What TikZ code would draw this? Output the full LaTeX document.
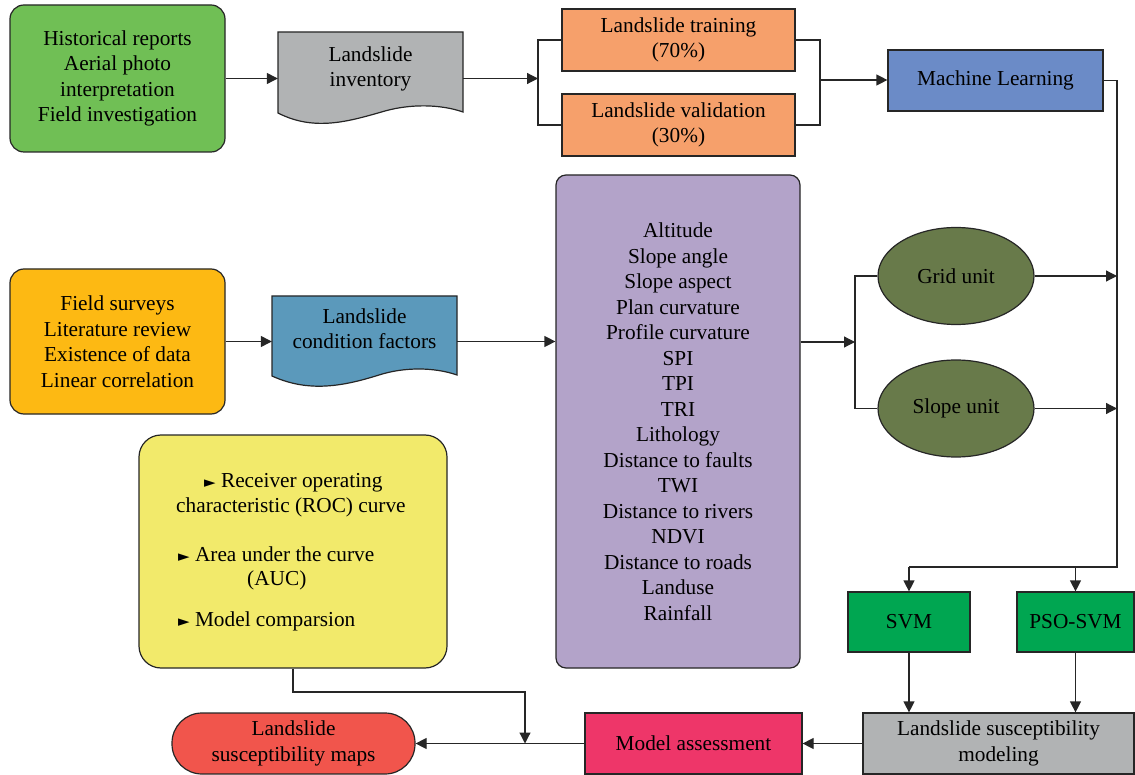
\documentclass[tikz,border=0pt]{standalone}
\usepackage{fontspec}
\setmainfont{Liberation Serif}
\newfontfamily\symfont{DejaVu Sans}
\usetikzlibrary{arrows.meta,shapes.geometric}
\definecolor{cgreen}{HTML}{70BF55}
\definecolor{cgray}{HTML}{B1B3B4}
\definecolor{corange}{HTML}{F6A06B}
\definecolor{cblue}{HTML}{6B8BC7}
\definecolor{cyellowor}{HTML}{FDB913}
\definecolor{cteal}{HTML}{5B99BB}
\definecolor{cpurple}{HTML}{B3A3C9}
\definecolor{colive}{HTML}{687A4A}
\definecolor{cyellow}{HTML}{F2EA6B}
\definecolor{csvm}{HTML}{00A651}
\definecolor{cpink}{HTML}{EE3669}
\definecolor{cred}{HTML}{F1554C}
\tikzset{
  x=1pt, y=-1pt,
  txt/.style={align=center, inner sep=0pt, font=\fontsize{21.3}{25.5}\selectfont},
  box/.style={txt, draw=black!85, line width=1.2pt},
  ln/.style={line width=1.2pt, draw=black!85},
  arr/.style={ln, -{Triangle[length=11pt,width=11pt]}},
  shapeline/.style={draw=black!85, line width=1.2pt},
  bline/.style={anchor=west, inner sep=0pt, text height=14pt, text depth=4pt, font=\fontsize{21.3}{25.5}\selectfont},
}
\newcommand{\tri}{{\symfont\fontsize{15}{15}\selectfont ►}}
\begin{document}
\begin{tikzpicture}
\useasboundingbox (0,0) rectangle (1135,775);
% source boxes
\node[box, fill=cgreen, rounded corners=14pt, minimum width=215pt, minimum height=147pt] (src1) at (117.5,78.5)
  {Historical reports\\Aerial photo\\interpretation\\Field investigation};
\node[box, fill=cyellowor, rounded corners=14pt, minimum width=215pt, minimum height=145pt] (src2) at (117.5,341.5)
  {Field surveys\\Literature review\\Existence of data\\Linear correlation};
% document shapes
\filldraw[shapeline, fill=cgray] (278,32) -- (463,32) -- (463,112)
  .. controls (440,104) and (410,104) .. (385,111)
  .. controls (350,121) and (315,132) .. (278,113) -- cycle;
\node[txt, minimum width=185pt] (inv) at (370.5,69) {Landslide\\inventory};
\filldraw[shapeline, fill=cteal] (272,296) -- (457,296) -- (457,375)
  .. controls (434,367) and (404,367) .. (379,375)
  .. controls (344,386) and (309,393) .. (272,376) -- cycle;
\node[txt, minimum width=185pt] (lcf) at (364.5,328.5) {Landslide\\condition factors};
% training / validation
\node[box, fill=corange, minimum width=233pt, minimum height=62pt] (train) at (678.5,40) {Landslide training\\(70\%)};
\node[box, fill=corange, minimum width=233pt, minimum height=62pt] (valid) at (678.5,125) {Landslide validation\\(30\%)};
\node[box, fill=cblue, minimum width=215pt, minimum height=61pt] (ml) at (995.5,80.5) {Machine Learning};
% factors
\node[box, fill=cpurple, rounded corners=10pt, minimum width=244pt, minimum height=493pt] (fac) at (678,421.5)
  {Altitude\\Slope angle\\Slope aspect\\Plan curvature\\Profile curvature\\SPI\\TPI\\TRI\\Lithology\\Distance to faults\\TWI\\Distance to rivers\\NDVI\\Distance to roads\\Landuse\\Rainfall};
% ellipses
\node[box, ellipse, fill=colive, minimum width=156pt, minimum height=97pt] (grid) at (956,276) {Grid unit};
\node[box, ellipse, fill=colive, minimum width=156pt, minimum height=97pt] (slope) at (956,408.5) {Slope unit};
% ROC box
\node[box, fill=cyellow, rounded corners=22pt, minimum width=308pt, minimum height=233pt] (roc) at (293,551.5) {};
\node[bline] (r1) at (204,482) {\tri\ Receiver operating};
\node[bline] (r2) at (176,507) {characteristic (ROC) curve};
\node[bline] (r3) at (178,556) {\tri\ Area under the curve};
\node[bline] (r4) at (247,580) {(AUC)};
\node[bline] (r5) at (178,621) {\tri\ Model comparsion};
% models
\node[box, fill=csvm, minimum width=122pt, minimum height=60pt] (svm) at (909,622) {SVM};
\node[box, fill=csvm, minimum width=117pt, minimum height=60pt] (pso) at (1075.5,622) {PSO-SVM};
\node[box, fill=cgray, minimum width=271pt, minimum height=61pt] (mod) at (998.5,743.5) {Landslide susceptibility\\modeling};
\node[box, fill=cpink, minimum width=217pt, minimum height=61pt] (assess) at (693.5,743.5) {Model assessment};
\node[box, fill=cred, rounded corners=30pt, minimum width=243pt, minimum height=61pt] (maps) at (293.5,743.5) {Landslide\\susceptibility maps};
% coordinates
\coordinate (bl) at (538,80);
\coordinate (br) at (820,80);
\coordinate (rv) at (1117,567);
\coordinate (bm) at (855,342);
\coordinate (rj) at (525,692);
% connectors
\draw[arr] (src1.east) -- (src1.east -| inv.west);
\draw[arr] (src1.east -| inv.east) -- (src1.east -| bl);
\draw[ln] (train.west) -| (bl) |- (valid.west);
\draw[ln] (train.east) -| (br) |- (valid.east);
\draw[arr] (br) -- (br -| ml.west);
\draw[ln] (ml.east) -| (rv) -- (rv -| svm.north);
\draw[arr] (rv -| svm.north) -- (svm.north);
\draw[arr] (rv -| pso.north) -- (pso.north);
\draw[arr] (src2.east) -- (src2.east -| lcf.west);
\draw[arr] (src2.east -| lcf.east) -- (src2.east -| fac.west);
\draw[arr] (bm -| fac.east) -- (bm);
\draw[ln] (grid.west) -| (bm) |- (slope.west);
\draw[arr] (grid.east) -- (grid.east -| rv);
\draw[arr] (slope.east) -- (slope.east -| rv);
\draw[arr] (svm.south) -- (svm.south |- mod.north);
\draw[arr] (pso.south) -- (pso.south |- mod.north);
\draw[arr] (mod.west) -- (assess.east);
\draw[arr] (assess.west) -- (maps.east);
\draw[arr] (roc.south) |- (rj) -- (rj |- maps.east);
\end{tikzpicture}
\end{document}
